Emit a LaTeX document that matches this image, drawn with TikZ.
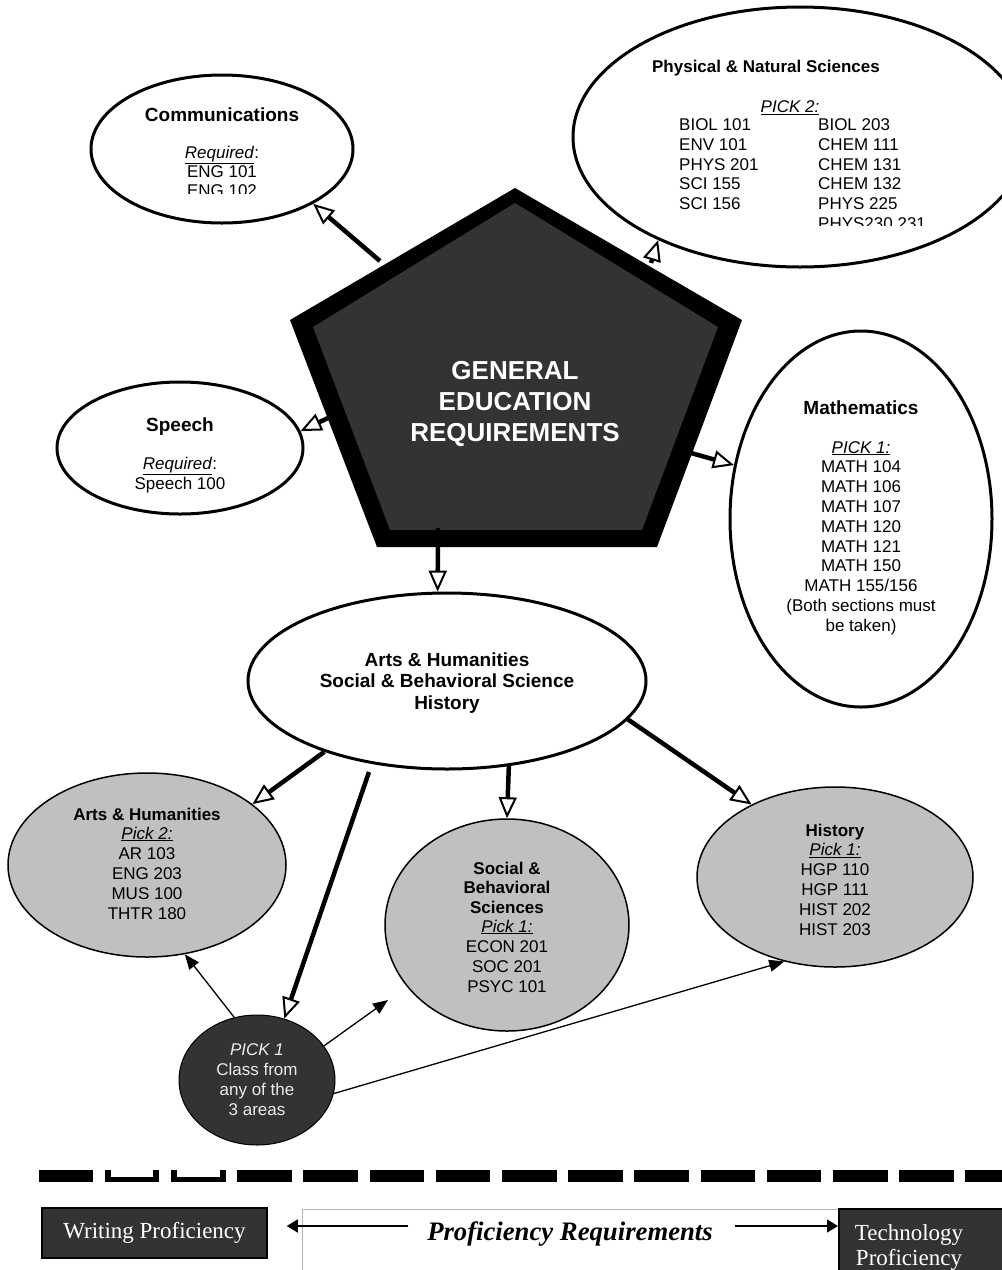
\documentclass[tikz,border=0pt]{standalone}
\usepackage{fontspec}
\setmainfont{Liberation Sans}
\newfontfamily\tnr{Liberation Serif}
\usetikzlibrary{shapes.geometric,arrows.meta}
\definecolor{darkfill}{HTML}{333333}
\definecolor{grayfill}{HTML}{C0C0C0}
\tikzset{
 whiteell/.style={ellipse, draw=black, line width=3pt, fill=white, inner sep=0pt},
 grayell/.style={ellipse, draw=black, line width=1.5pt, fill=grayfill, inner sep=0pt},
 body/.style={align=center, inner sep=0pt, font=\fontsize{17}{20}\selectfont},
 head/.style={align=center, inner sep=0pt, font=\bfseries\fontsize{19}{22}\selectfont},
 shead/.style={align=center, inner sep=0pt, font=\bfseries\fontsize{17}{19.5}\selectfont},
 bigarrow/.style={line width=4.5pt, -{Triangle[length=21pt,width=18pt,line width=2pt,fill=white]}},
 thinarrow/.style={line width=1.3pt, -{Triangle[length=15pt,width=12pt]}},
 profarrow/.style={line width=1.2pt, -{Triangle[length=11pt,width=13pt]}},
 profbox/.style={rectangle, draw=black, line width=1.5pt, fill=darkfill, text=white, inner sep=0pt, font=\tnr\fontsize{23}{25}\selectfont, align=center},
}
\begin{document}
\begin{tikzpicture}[x=1pt,y=-1pt]
\useasboundingbox (0,0) rectangle (1002,1270);
\fill[white] (0,0) rectangle (1002,1270);

% ellipses
\node[whiteell, minimum width=262pt, minimum height=148pt] (comm) at (222,149) {};
\node[whiteell, minimum width=454pt, minimum height=260pt] (phys) at (800,137) {};
\node[whiteell, minimum width=246pt, minimum height=132pt] (speech) at (180,448) {};
\node[whiteell, minimum width=262pt, minimum height=376pt] (math) at (861,519) {};
\node[whiteell, minimum width=398pt, minimum height=176pt] (core) at (447,681) {};
\node[grayell, minimum width=278pt, minimum height=184pt] (arts) at (147,865) {};
\node[grayell, minimum width=244pt, minimum height=212pt] (soc) at (507,925) {};
\node[grayell, minimum width=276pt, minimum height=180pt] (hist) at (835,877) {};
\node[ellipse, draw=black, line width=1pt, fill=darkfill, minimum width=156pt, minimum height=130pt, inner sep=0pt] (pick) at (257,1080) {};

% pentagon
\fill[black] (515,188) -- (742,320) -- (657,547) -- (377,547) -- (290,320) -- cycle;
\fill[darkfill] (515,203) -- (718,327) -- (642,530) -- (390,530) -- (313,327) -- cycle;
\node[text=white, align=center, inner sep=0pt, font=\bfseries\fontsize{26}{31}\selectfont] (gen) at (515,404) {GENERAL\\EDUCATION\\REQUIREMENTS};

\coordinate (tcomm) at (380,261);
\coordinate (tphys) at (651,263);
\coordinate (tspeech) at (328,418);
\coordinate (tmath) at (691,453);
\coordinate (tcore) at (438,528);
\coordinate (tlong) at (369,772);
\coordinate (socend) at (388,1000);

% arrows
\draw[bigarrow] (tcomm) -- (comm.-31);
\draw[bigarrow] (tphys) -- (phys.216);
\draw[bigarrow] (tspeech) -- (speech.8.5);
\draw[bigarrow] (tmath) -- (math.157);
\draw[bigarrow] (tcore) -- (core.96);
\draw[bigarrow] (core.210.6) -- (arts.30.6);
\draw[bigarrow] (tlong) -- (pick.66.7);
\draw[bigarrow] (core.-54.5) -- (soc.90);
\draw[bigarrow] (core.-12.7) -- (hist.139.7);
\draw[thinarrow] (pick.110) -- (arts.-67.6);
\draw[thinarrow] (pick.27.9) -- (socend);
\draw[thinarrow] (pick.-10.9) -- (hist.239.7);

% texts
\node[head] (commh) at (222,115) {Communications};
\begin{scope}
\clip (60,135) rectangle (400,193);
\node[body, font=\fontsize{17}{19}\selectfont] (commb) at (222,171) {\underline{\textit{Required}}:\\ENG 101\\ENG 102};
\end{scope}

\node[shead] (physh) at (766,68.5) {Physical \& Natural Sciences};
\node[body] (physp) at (790,108) {\underline{\textit{PICK 2:}}};
\begin{scope}
\clip (600,112) rectangle (1000,225);
\node[body, anchor=north west, align=left, font=\fontsize{17}{19.7}\selectfont] (physl) at (679,118.8) {BIOL 101\\ENV 101\\PHYS 201\\SCI 155\\SCI 156};
\node[body, anchor=north west, align=left, font=\fontsize{17}{19.7}\selectfont] (physr) at (818,118.8) {BIOL 203\\CHEM 111\\CHEM 131\\CHEM 132\\PHYS 225\\PHYS230,231};
\end{scope}

\node[head] (speechh) at (180,426.8) {Speech};
\node[body] (speechb) at (180,475) {\underline{\textit{Required}}:\\Speech 100};

\node[head] (mathh) at (861,408) {Mathematics};
\node[body, font=\fontsize{17}{19.8}\selectfont] (mathb) at (861,538) {\underline{\textit{PICK 1:}}\\MATH 104\\MATH 106\\MATH 107\\MATH 120\\MATH 121\\MATH 150\\MATH 155/156\\(Both sections must\\be taken)};

\node[head, font=\bfseries\fontsize{19}{21.5}\selectfont] (coret) at (447,683) {Arts \& Humanities\\Social \& Behavioral Science\\History};

\node[shead] (artsh) at (147,814) {Arts \& Humanities};
\node[body] (artsb) at (147,873) {\underline{\textit{Pick 2:}}\\AR 103\\ENG 203\\MUS 100\\THTR 180};

\node[shead] (soch) at (507,887.5) {Social \&\\Behavioral\\Sciences};
\node[body] (socb) at (507,956) {\underline{\textit{Pick 1:}}\\ECON 201\\SOC 201\\PSYC 101};

\node[shead] (histh) at (835,831.7) {History};
\begin{scope}
\clip (690,838) rectangle (980,935);
\node[body] (histb) at (835,889.5) {\underline{\textit{Pick 1:}}\\HGP 110\\HGP 111\\HIST 202\\HIST 203};
\end{scope}

\node[body, text=white!92!black] (pickt) at (257,1080) {\textit{PICK 1}\\Class from\\any of the\\3 areas};

% dashed separator
\foreach \i in {0,...,14} { \fill[black] ({38.5+66.2*\i},1170) rectangle ++(54.6,12); }
\foreach \i in {1,2} { \fill[white] ({38.5+66.2*\i+6},1169) rectangle ++(42.6,8); }

% proficiency row
\node[rectangle, draw=gray!60, line width=0.8pt, anchor=north west, minimum width=536pt, minimum height=80pt, inner sep=0pt] (profarea) at (302,1209) {};
\node[profbox, minimum width=225pt, minimum height=50pt] (writing) at (154.5,1233) {Writing Proficiency};
\node[profbox, anchor=north west, minimum width=164pt, minimum height=80pt] (tech) at (838,1208) {};
\node[font=\tnr\fontsize{23}{25}\selectfont, text=white, align=center, inner sep=0pt] (techt) at (909,1247) {Technology\\Proficiency};
\node[font=\tnr\bfseries\itshape\fontsize{26.7}{30}\selectfont, inner sep=0pt] (profreq) at (570,1234) {Proficiency Requirements};
\coordinate (la) at (408,1226);
\coordinate (ra) at (735,1226);
\draw[profarrow, shorten >=19pt] (la) -- (writing.east |- la);
\draw[profarrow] (ra) -- (tech.west |- ra);
\end{tikzpicture}
\end{document}
